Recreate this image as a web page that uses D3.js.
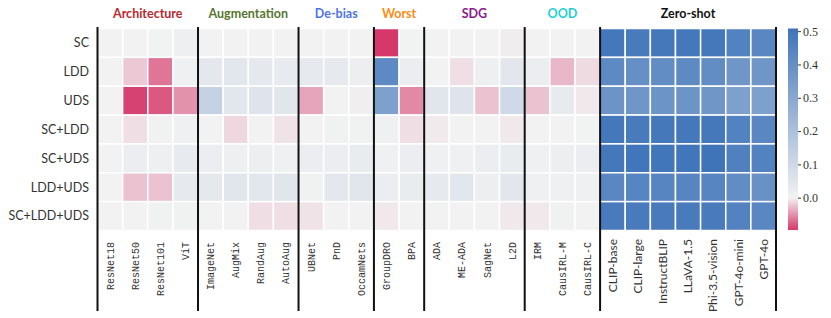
<!DOCTYPE html>
<html>
<head>
<meta charset="utf-8">
<script src="https://cdn.jsdelivr.net/npm/d3@7"></script>
<style>
  body { margin: 0; background: #fff; }
  svg { display: block; }
</style>
</head>
<body>
<svg id="chart" width="831" height="318"></svg>
<script>
const rowLabels = ['SC', 'LDD', 'UDS', 'SC+LDD', 'SC+UDS', 'LDD+UDS', 'SC+LDD+UDS'];

const methods = ['ResNet18', 'ResNet50', 'ResNet101', 'ViT',
    'ImageNet', 'AugMix', 'RandAug', 'AutoAug',
    'UBNet', 'PnD', 'OccamNets',
    'GroupDRO', 'BPA',
    'ADA', 'ME-ADA', 'SagNet', 'L2D',
    'IRM', 'CausIRL-M', 'CausIRL-C',
    'CLIP-base', 'CLIP-large', 'InstructBLIP', 'LLaVA-1.5', 'Phi-3.5-vision', 'GPT-4o-mini', 'GPT-4o'];

const groupNames = ['Architecture', 'Augmentation', 'De-bias', 'Worst', 'SDG', 'OOD', 'Zero-shot'];
const groupSizes = [4, 4, 3, 2, 4, 3, 7];
const groupColors = ['#b8282e', '#56752f', '#4f74e3', '#fb8c12', '#8c1c8c', '#1ecfd2', '#111111'];

const colorTicks = [0.0, 0.1, 0.2, 0.3, 0.4, 0.5];

// one array per row, same order as methods
const sc = [0.000, 0.000, 0.002, 0.012, 0.000, 0.000, 0.000, 0.000, 0.000, 0.000, 0.000, -0.097, 0.002,
    0.000, 0.000, 0.000, -0.003, 0.000, 0.000, 0.000, 0.49, 0.48, 0.49, 0.49, 0.49, 0.45, 0.43];
const ldd = [0.000, -0.022, -0.065, 0.008, 0.040, 0.045, 0.038, 0.030, 0.035, 0.035, 0.015, 0.42, 0.020,
    0.000, -0.010, 0.012, 0.045, 0.020, -0.030, -0.012, 0.42, 0.40, 0.41, 0.42, 0.41, 0.37, 0.37];
const uds = [0.000, -0.092, -0.080, -0.050, 0.130, 0.045, 0.055, 0.050, -0.040, 0.000, -0.002, 0.33, -0.055,
    0.050, 0.055, -0.025, 0.100, -0.025, 0.030, -0.005, 0.38, 0.37, 0.38, 0.38, 0.37, 0.33, 0.33];
const scLdd = [0.000, -0.010, 0.003, 0.010, 0.000, -0.014, 0.000, -0.008, 0.000, 0.005, 0.005, 0.010, -0.010,
    -0.004, 0.000, 0.000, -0.005, 0.000, 0.000, 0.002, 0.49, 0.48, 0.49, 0.49, 0.49, 0.45, 0.43];
const scUds = [0.000, 0.020, 0.014, 0.030, 0.020, 0.014, 0.016, 0.010, 0.020, 0.020, 0.025, 0.010, 0.020,
    0.008, 0.010, 0.020, 0.025, 0.010, 0.015, 0.020, 0.49, 0.50, 0.50, 0.50, 0.508, 0.46, 0.45];
const lddUds = [0.000, -0.025, -0.025, 0.035, 0.037, 0.050, 0.044, 0.048, 0.005, 0.040, 0.050, 0.020, 0.025,
    0.035, 0.045, 0.015, 0.045, 0.010, 0.010, 0.010, 0.43, 0.44, 0.44, 0.44, 0.44, 0.41, 0.39];
const scLddUds = [0.000, 0.000, 0.005, 0.005, 0.000, 0.000, -0.010, -0.010, -0.008, 0.000, 0.000, -0.005, 0.000,
    0.000, 0.000, 0.000, -0.005, -0.005, 0.005, 0.000, 0.48, 0.48, 0.48, 0.48, 0.48, 0.45, 0.43];

const rowValues = [sc, ldd, uds, scLdd, scUds, lddUds, scLddUds];

const vMin = -0.097;
const vMax = 0.508;

const svg = d3.select('#chart');

const x = d3.scaleBand().domain(methods).range([97.5, 776]);
const y = d3.scaleBand().domain(rowLabels).range([28.5, 230.5]);

const color = d3.scaleLinear()
    .domain([vMin, 0, vMax])
    .range(['#d5386a', '#f2f2f2', '#3f74b9'])
    .clamp(true);

const cells = [];
rowValues.forEach((vals, i) => {
    vals.forEach((v, j) => {
        cells.push({ row: rowLabels[i], method: methods[j], value: v });
    });
});

// heatmap cells with white gaps
svg.append('g')
    .selectAll('rect')
    .data(cells)
    .join('rect')
    .attr('x', d => x(d.method))
    .attr('y', d => y(d.row))
    .attr('width', x.bandwidth())
    .attr('height', y.bandwidth())
    .attr('fill', d => color(d.value))
    .attr('stroke', '#fff')
    .attr('stroke-width', 1.5);

// row labels
svg.append('g')
    .selectAll('text')
    .data(rowLabels)
    .join('text')
    .attr('x', 89)
    .attr('y', d => y(d) + y.bandwidth() / 2)
    .attr('dy', '0.35em')
    .attr('text-anchor', 'end')
    .attr('font-family', 'Lato, sans-serif')
    .attr('font-size', 12.5)
    .attr('fill', '#333')
    .text(d => d);

// column labels, rotated
const zeroShotStart = methods.indexOf('CLIP-base');
svg.append('g')
    .selectAll('text')
    .data(methods)
    .join('text')
    .attr('transform', (d, i) => {
        const top = i >= zeroShotStart ? 239 : 242;
        return `translate(${x(d) + x.bandwidth() / 2},${top}) rotate(-90)`;
    })
    .attr('dy', '0.35em')
    .attr('text-anchor', 'end')
    .attr('font-family', (d, i) => i >= zeroShotStart ? 'Lato, sans-serif' : '"Liberation Mono", monospace')
    .attr('font-size', (d, i) => i >= zeroShotStart ? 12 : 10)
    .attr('fill', '#333')
    .text(d => d);

// group separators and titles
let offset = 0;
const groups = groupNames.map((name, i) => {
    const g = { name, color: groupColors[i], start: offset, end: offset + groupSizes[i] };
    offset += groupSizes[i];
    return g;
});

const edgeX = idx => idx < methods.length ? x(methods[idx]) : x.range()[1];

const bounds = groups.map(g => g.start).concat([methods.length]);
svg.append('g')
    .selectAll('line')
    .data(bounds)
    .join('line')
    .attr('x1', d => edgeX(d))
    .attr('x2', d => edgeX(d))
    .attr('y1', 27)
    .attr('y2', 311)
    .attr('stroke', '#111')
    .attr('stroke-width', 2);

svg.append('g')
    .selectAll('text')
    .data(groups)
    .join('text')
    .attr('x', d => (edgeX(d.start) + edgeX(d.end)) / 2)
    .attr('y', 18)
    .attr('text-anchor', 'middle')
    .attr('font-family', 'Lato, sans-serif')
    .attr('font-weight', 'bold')
    .attr('font-size', 12.5)
    .attr('fill', d => d.color)
    .text(d => d.name);

// colorbar
const cbX = 788, cbW = 10;
const cbY = d3.scaleLinear().domain([vMin, vMax]).range([230, 28.5]);

const grad = svg.append('defs').append('linearGradient')
    .attr('id', 'cbar')
    .attr('x1', 0).attr('y1', 1)
    .attr('x2', 0).attr('y2', 0);
grad.selectAll('stop')
    .data(color.domain())
    .join('stop')
    .attr('offset', d => (d - vMin) / (vMax - vMin))
    .attr('stop-color', d => color(d));

svg.append('rect')
    .attr('x', cbX)
    .attr('y', cbY(vMax))
    .attr('width', cbW)
    .attr('height', cbY(vMin) - cbY(vMax))
    .attr('fill', 'url(#cbar)');

const cbAxis = svg.append('g')
    .attr('transform', `translate(${cbX + cbW},0)`)
    .call(d3.axisRight(cbY).tickValues(colorTicks).tickSize(3).tickPadding(2).tickFormat(d3.format('.1f')));
cbAxis.select('.domain').remove();
cbAxis.selectAll('line').attr('stroke', '#333');
cbAxis.selectAll('text')
    .style('font-family', '"Liberation Serif", "DejaVu Serif", serif')
    .style('font-size', '12px')
    .attr('fill', '#333');
</script>
</body>
</html>
